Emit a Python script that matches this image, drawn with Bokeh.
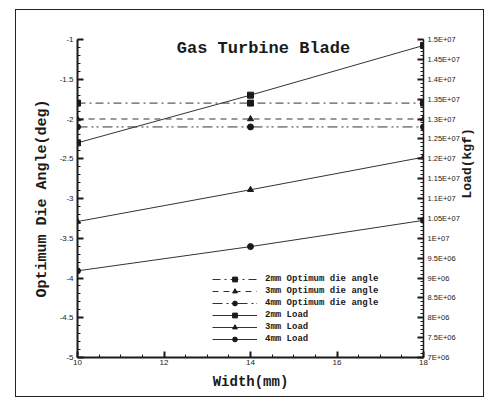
import math
from bokeh.plotting import figure
from bokeh.models import (Range1d, LinearAxis, FixedTicker, CustomJSTickFormatter,
                          Legend, LegendItem, Label)
from bokeh.embed import file_html
from bokeh.resources import INLINE

# ---- data ----
widths = [10, 14, 18]
angle_2mm = [-1.8, -1.8, -1.8]
angle_3mm = [-2.0, -2.0, -2.0]
angle_4mm = [-2.1, -2.1, -2.1]
load_2mm = [1.24e7, 1.36e7, 1.485e7]
load_3mm = [1.042e7, 1.122e7, 1.204e7]
load_4mm = [9.18e6, 9.79e6, 1.045e7]

x_ticks = [10, 12, 14, 16, 18]
angle_ticks = [-5, -4.5, -4, -3.5, -3, -2.5, -2, -1.5, -1]
load_ticks = [7e6, 7.5e6, 8e6, 8.5e6, 9e6, 9.5e6, 1e7, 1.05e7, 1.1e7,
              1.15e7, 1.2e7, 1.25e7, 1.3e7, 1.35e7, 1.4e7, 1.45e7, 1.5e7]

title_text = "Gas Turbine Blade"
x_label = "Width(mm)"
left_label = "Optimum Die Angle(deg)"
right_label = "Load(kgf)"
legend_labels = ["2mm Optimum die angle", "3mm Optimum die angle", "4mm Optimum die angle",
                 "2mm Load", "3mm Load", "4mm Load"]

INK = "#1a1a1a"
MONO = "Liberation Mono"
SANS = "Liberation Sans"

p = figure(width=469, height=388, output_backend="svg", toolbar_location=None,
           x_range=Range1d(10, 18), y_range=Range1d(-5, -1),
           min_border_left=61, min_border_right=56, min_border_top=29, min_border_bottom=41)
p.styles = {"border": "1px solid #222", "box-sizing": "border-box",
            "margin-left": "15px", "margin-top": "9px"}
p.extra_y_ranges = {"load": Range1d(7e6, 1.5e7)}
p.xgrid.visible = False
p.ygrid.visible = False
p.outline_line_color = None
p.background_fill_color = "white"
p.border_fill_color = "white"

def style_axis(ax, lw):
    ax.axis_line_color = INK
    ax.axis_line_width = lw
    ax.major_tick_in = 6
    ax.major_tick_out = 0
    ax.minor_tick_in = 3
    ax.minor_tick_out = 0
    ax.major_tick_line_color = INK
    ax.major_tick_line_width = 2
    ax.minor_tick_line_color = INK
    ax.major_label_text_font = SANS
    ax.major_label_text_font_size = "8px"
    ax.major_label_text_color = INK
    ax.axis_label_text_font = MONO
    ax.axis_label_text_font_style = "bold"
    ax.axis_label_text_font_size = "14px"
    ax.axis_label_text_color = INK

# bottom axis
xa = p.xaxis[0]
style_axis(xa, 2)
xa.ticker = FixedTicker(ticks=x_ticks, minor_ticks=[10 + 0.5 * i for i in range(17)])
xa.major_label_standoff = 2
xa.axis_label = x_label
xa.axis_label_standoff = 6

# left axis
ya = p.yaxis[0]
style_axis(ya, 2)
ya.ticker = FixedTicker(ticks=angle_ticks, minor_ticks=[-5 + 0.1 * i for i in range(41)])
ya.formatter = CustomJSTickFormatter(code="return String(Math.round(tick*10)/10);")
ya.major_label_standoff = 4
ya.axis_label = left_label
ya.axis_label_standoff = 6
ya.axis_label_text_font_size = "15px"

# right axis
ra = LinearAxis(y_range_name="load")
style_axis(ra, 1.5)
ra.ticker = FixedTicker(ticks=load_ticks, minor_ticks=[7e6 + 1e5 * i for i in range(81)])
ra.formatter = CustomJSTickFormatter(code="""
const e = Math.floor(Math.log10(Math.abs(tick)) + 1e-9);
const m = Math.round(tick / Math.pow(10, e) * 1000) / 1000;
return m + "E+" + (e < 10 ? "0" + e : String(e));
""")
ra.major_label_text_font_size = "7.5px"
ra.major_label_standoff = 4
ra.axis_label = right_label
ra.axis_label_standoff = 5
ra.axis_label_text_font_size = "13px"
ra.axis_label_orientation = math.pi / 2
p.add_layout(ra, "right")

# angle series (dashed horizontals)
dash_angle = ["8 4 2 4", "6 5", "10 4 2 3 2 4"]
markers = ["square", "triangle", "circle"]
items = []
for ys, dash, mk, lab in zip([angle_2mm, angle_3mm, angle_4mm], dash_angle, markers, legend_labels[:3]):
    l = p.line(widths, ys, line_color="#333", line_width=1, line_dash=dash)
    m = p.scatter(widths, ys, marker=mk, size=6, fill_color=INK, line_color=INK)
    items.append(LegendItem(label=lab, renderers=[l, m]))

# load series (solid)
for ys, mk, lab in zip([load_2mm, load_3mm, load_4mm], markers, legend_labels[3:]):
    l = p.line(widths, ys, line_color="#333", line_width=1, y_range_name="load")
    m = p.scatter(widths, ys, marker=mk, size=6, fill_color=INK, line_color=INK, y_range_name="load")
    items.append(LegendItem(label=lab, renderers=[l, m]))

legend = Legend(items=items, location=(135, 12), padding=0, margin=0, spacing=0,
                label_height=12, glyph_height=12, glyph_width=45, label_standoff=8,
                border_line_color=None, background_fill_alpha=0,
                label_text_font=MONO, label_text_font_style="bold",
                label_text_font_size="9px", label_text_color=INK)
p.add_layout(legend, "center")

p.add_layout(Label(x=14.3, y=-1.114, text=title_text, text_align="center",
                   text_baseline="middle", text_font=MONO, text_font_style="bold",
                   text_font_size="17px", text_color=INK))

open("out.html", "w").write(file_html(p, INLINE))
